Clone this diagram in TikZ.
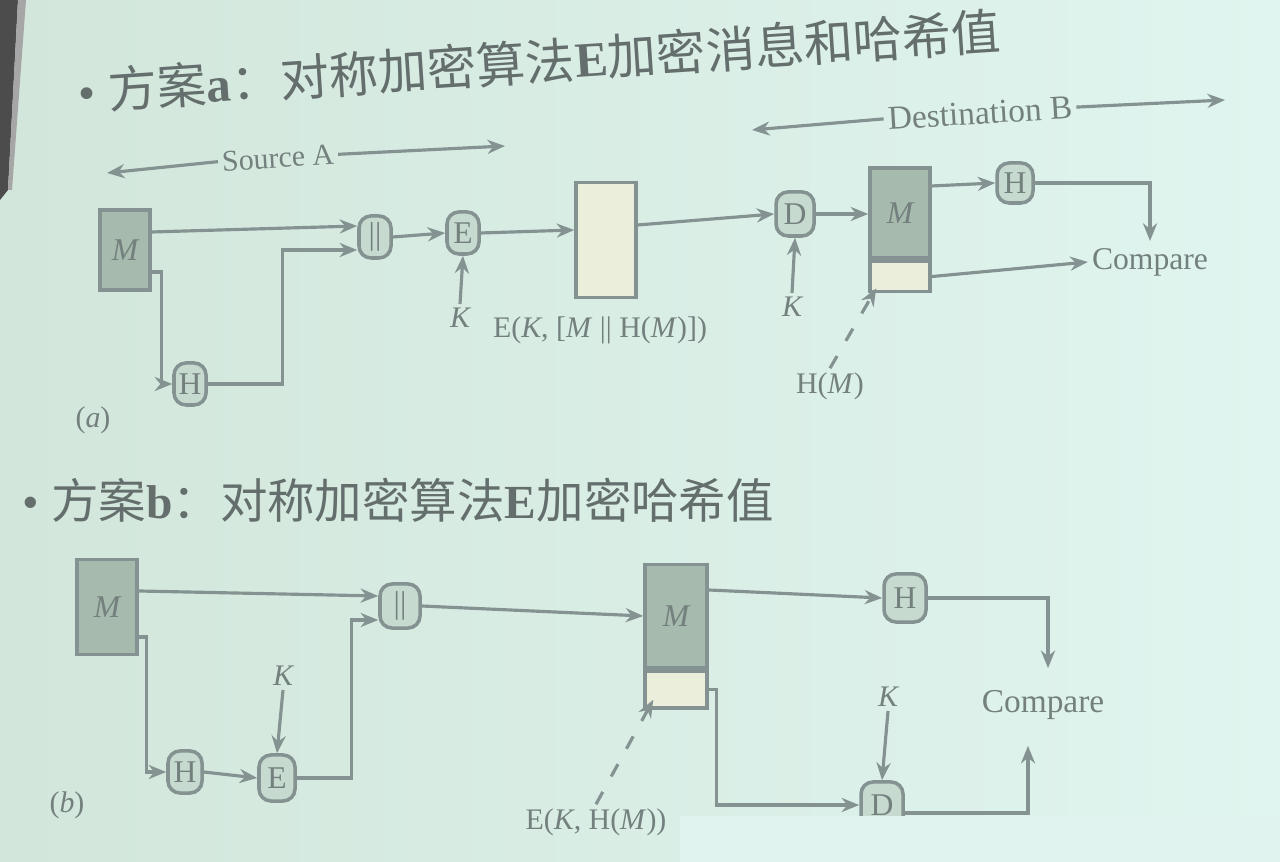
\documentclass[tikz,border=0pt]{standalone}
\usepackage{fontspec}
\setmainfont{Liberation Serif}
\newfontfamily\cjk{Noto Sans CJK SC}
\usetikzlibrary{arrows.meta,calc}
\definecolor{bgL}{RGB}{210,230,219}
\definecolor{bgR}{RGB}{224,245,239}
\definecolor{ln}{RGB}{132,147,145}
\definecolor{txt}{RGB}{116,128,126}
\definecolor{ttl}{RGB}{100,110,108}
\definecolor{mfill}{RGB}{166,186,174}
\definecolor{ofill}{RGB}{198,218,208}
\definecolor{cream}{RGB}{234,238,218}
\definecolor{veil}{RGB}{224,243,238}

\begin{document}
\begin{tikzpicture}[x=0.01cm,y=-0.01cm,
  wire/.style={draw=ln,line width=0.9pt},
  flow/.style={wire,-{Stealth[length=5pt,width=4pt]}},
  dashflow/.style={flow,dash pattern=on 4pt off 5pt},
  mbox/.style={draw=ln,line width=1pt,fill=mfill,inner sep=0pt,text=txt,
    font=\fontsize{9}{10}\selectfont\itshape},
  cbox/.style={draw=ln,line width=1pt,fill=cream,inner sep=0pt},
  op/.style={draw=ln,line width=1pt,fill=ofill,rounded corners=0.12cm,inner sep=0pt,
    minimum width=0.32cm,minimum height=0.42cm,text=txt,font=\fontsize{9}{10}\selectfont},
  lbl/.style={text=txt,font=\fontsize{8.5}{10}\selectfont,inner sep=1pt},
  title/.style={text=ttl,anchor=west,inner sep=0pt},
  ]
% screen background
\shade[left color=bgL,right color=bgR] (0,0) rectangle (1280,862);
\useasboundingbox (0,0) rectangle (1280,862);
\fill[black!70] (0,0) -- (18,0) -- (8,190) -- (0,200) -- cycle;
\fill[black!35] (18,0) -- (26,0) -- (12,190) -- (8,190) -- cycle;

% headings
\node[title,rotate=3.8,font=\fontsize{14}{16}\selectfont] (ta) at (78,92)
  {\textbullet\ \cjk 方案{\rmfamily\bfseries a}：对称加密算法{\rmfamily\bfseries E}加密消息和哈希值};
\node[title,font=\fontsize{13.5}{15}\selectfont] (tb) at (22,500)
  {\textbullet\ \cjk 方案{\rmfamily\bfseries b}：对称加密算法{\rmfamily\bfseries E}加密哈希值};

% ---------- (a) ----------
\node[lbl,rotate=3.5] (srcA) at (278,158) {Source A};
\coordinate (srcL) at (107,173);
\coordinate (srcR) at (505,146);
\draw[flow] (srcA.west) -- (srcL);
\draw[flow] (srcA.east) -- (srcR);

\node[lbl,rotate=3.5,font=\fontsize{9.5}{11}\selectfont] (dstB) at (980,113) {Destination B};
\coordinate (dstL) at (752,130);
\coordinate (dstR) at (1225,100);
\draw[flow] (dstB.west) -- (dstL);
\draw[flow] (dstB.east) -- (dstR);

\node[mbox,minimum width=0.5cm,minimum height=0.8cm] (Ma) at (125,250) {M};
\node[op] (Ha) at (190,384) {H};
\node[op] (cata) at (375,237) {||};
\node[op] (Ea) at (463,233) {E};
\node[lbl] (Ka) at (460,318) {\itshape K};
\node[cbox,minimum width=0.6cm,minimum height=1.15cm] (Ca) at (606,240) {};
\node[lbl] (Cla) at (600,330) {E(\textit{K}, [\textit{M} || H(\textit{M})])};
\node[op,minimum width=0.38cm,minimum height=0.44cm] (Da) at (795,214) {D};
\node[lbl] (Kda) at (792,307) {\itshape K};
\node[mbox,minimum width=0.6cm,minimum height=0.9cm] (Mb) at (900,213) {M};
\node[cbox,minimum width=0.6cm,minimum height=0.3cm,anchor=north] (hb) at (Mb.south) {};
\node[op,minimum width=0.36cm,minimum height=0.4cm] (Hb) at (1015,183) {H};
\node[lbl,font=\fontsize{9}{10}\selectfont] (cmpa) at (1150,262) {Compare};
\node[lbl] (hml) at (830,386) {H(\textit{M})};
\node[lbl] (laba) at (93,420) {(\textit{a})};

\draw[flow] ([yshift=0.18cm]Ma.east) -- ([yshift=0.11cm]cata.west);
\draw[flow] ([yshift=-0.22cm]Ma.east) -- ++(0.1cm,0) |- (Ha.west);
\draw[flow] (Ha.east) -- ++(0.75cm,0) |- ([yshift=-0.13cm]cata.west);
\draw[flow] (cata.east) -- (Ea.west);
\draw[flow] (Ka.north) -- (Ea.south);
\draw[flow] (Ea.east) -- ([yshift=0.1cm]Ca.west);
\draw[flow] ([yshift=0.15cm]Ca.east) -- (Da.west);
\draw[flow] (Kda.north) -- (Da.south);
\draw[flow] (Da.east) -- (Da.east -| Mb.west);
\draw[flow] ([yshift=0.27cm]Mb.east) -- (Hb.west);
\draw[flow,shorten >=0.03cm] (Hb.east) -| (cmpa.north);
\draw[flow] (hb.east) -- (cmpa.west);
\draw[dashflow] (hml.north) -- ([xshift=0.08cm,yshift=0.05cm]hb.south west);

% ---------- (b) ----------
\node[mbox,minimum width=0.6cm,minimum height=0.95cm] (Mc) at (107,607) {M};
\node[op,minimum width=0.4cm,minimum height=0.44cm] (catb) at (400,606) {||};
\node[op,minimum width=0.34cm,minimum height=0.42cm] (Hc) at (185,772) {H};
\node[op,minimum width=0.36cm,minimum height=0.46cm] (Ec) at (277,778) {E};
\node[lbl] (Kc) at (283,676) {\itshape K};
\node[mbox,minimum width=0.62cm,minimum height=1.03cm] (Md) at (676,616) {M};
\node[cbox,minimum width=0.62cm,minimum height=0.37cm,anchor=north] (hd) at (Md.south) {};
\node[op,minimum width=0.42cm,minimum height=0.48cm] (Hd) at (905,598) {H};
\node[lbl,font=\fontsize{9.5}{11}\selectfont] (cmpb) at (1043,705) {Compare};
\node[lbl] (Kdb) at (888,697) {\itshape K};
\node[op,minimum width=0.42cm,minimum height=0.46cm] (Dd) at (882,805) {D};
\node[lbl] (ekh) at (596,822) {E(\textit{K}, H(\textit{M}))};
\node[lbl] (labb) at (67,805) {(\textit{b})};

\draw[flow] ([yshift=0.16cm]Mc.east) -- ([yshift=0.1cm]catb.west);
\draw[flow] ([yshift=-0.3cm]Mc.east) -- ++(0.08cm,0) |- (Hc.west);
\draw[flow] (Hc.east) -- (Ec.west);
\draw[flow] (Kc.south) -- (Ec.north);
\draw[flow] (Ec.east) -- ++(0.55cm,0) |- ([yshift=-0.14cm]catb.west);
\draw[flow] (catb.east) -- (Md.west);
\draw[flow] ([yshift=0.26cm]Md.east) -- (Hd.west);
\draw[flow,shorten >=0.18cm] (Hd.east) -| ([xshift=0.05cm]cmpb.north);
\draw[flow] (Kdb.south) -- (Dd.north);
\draw[flow] (hd.east) -- ++(0.08cm,0) |- (Dd.west);
\draw[flow,shorten >=0.22cm] ([yshift=-0.08cm]Dd.east) -| ([xshift=-0.15cm]cmpb.south);
\draw[dashflow] (ekh.north) -- ([xshift=0.1cm,yshift=0.1cm]hd.south west);

% lighter band across the lower edge of the screen
\fill[veil] (680,816) rectangle (1280,862);
\end{tikzpicture}
\end{document}
